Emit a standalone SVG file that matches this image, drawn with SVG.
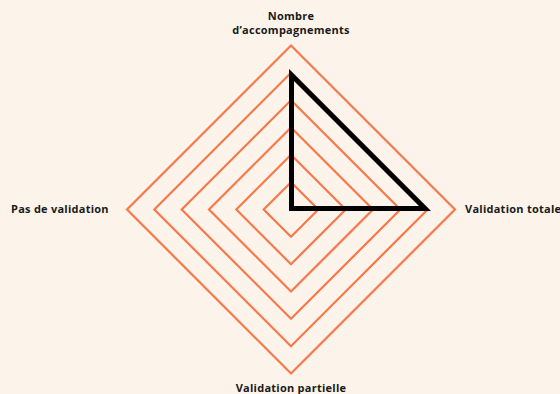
<svg xmlns="http://www.w3.org/2000/svg" width="560" height="394" viewBox="0 0 560 394">
<style>
.ring{fill:none;stroke:#F7784A;stroke-width:2.2}
.lbl{font-family:"Open Sans","Liberation Sans",sans-serif;font-weight:700;font-size:11px;letter-spacing:0.25px;fill:#1a1a1a}
</style>
<rect width="560" height="394" fill="#FCF4EB"/>
<g id="grid">
<polygon class="ring" points="291,45.5 455,209.5 291,373.5 127,209.5"/>
<polygon class="ring" points="291,72.8 427.7,209.5 291,346.2 154.3,209.5"/>
<polygon class="ring" points="291,100.2 400.3,209.5 291,318.8 181.7,209.5"/>
<polygon class="ring" points="291,127.5 373,209.5 291,291.5 209,209.5"/>
<polygon class="ring" points="291,154.8 345.7,209.5 291,264.2 236.3,209.5"/>
<polygon class="ring" points="291,182.2 318.3,209.5 291,236.8 263.7,209.5"/>
</g>
<g id="connectors">
<polygon points="291.5,75 425,208.5 291.5,208.5" fill="none" stroke="#000" stroke-width="5" stroke-linejoin="miter" stroke-miterlimit="10"/>
</g>
<g id="node-top"><text class="lbl" x="291" y="20" text-anchor="middle">Nombre</text><text class="lbl" x="291" y="34" text-anchor="middle">d’accompagnements</text></g>
<g id="node-left"><text class="lbl" x="11" y="213">Pas de validation</text></g>
<g id="node-right"><text class="lbl" x="465" y="213">Validation totale</text></g>
<g id="node-bottom"><text class="lbl" x="291" y="392" text-anchor="middle">Validation partielle</text></g>
</svg>
